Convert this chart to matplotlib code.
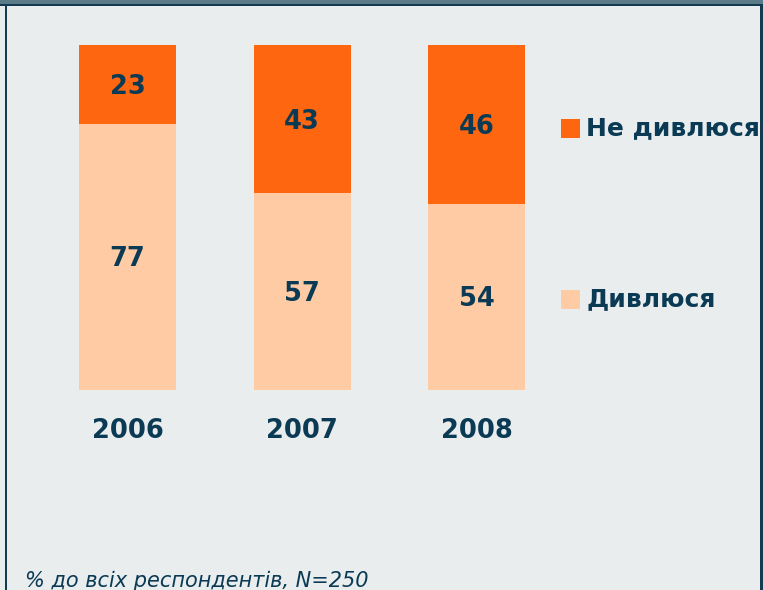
"""
Stacked percentage bars: do respondents watch or not, by year
"""

import matplotlib
matplotlib.use('Agg')
import matplotlib.pyplot as plt
from matplotlib.patches import Rectangle
import numpy as np

years = ['2006', '2007', '2008']
watch = [77, 57, 54]          # Дивлюся
not_watch = [23, 43, 46]      # Не дивлюся
series_labels = ['Не дивлюся', 'Дивлюся']
footnote = '% до всіх респондентів, N=250'

W, H = 763, 590
BG = '#e9edee'
NAVY = '#0b3a54'
DARK_ORANGE = '#ff6610'
PEACH = '#ffcba5'


def fx(px):
    return px / W


def fy(py):
    return 1 - py / H


fig = plt.figure(figsize=(W / 100, H / 100), dpi=100, facecolor=BG)

# frame lines along the top and the sides
fig.patches.append(Rectangle((0, fy(4)), 1, 4 / H, transform=fig.transFigure,
                             facecolor='#5b7b88', edgecolor='none'))
fig.patches.append(Rectangle((0, fy(6)), 1, 2 / H, transform=fig.transFigure,
                             facecolor='#143a50', edgecolor='none'))
fig.patches.append(Rectangle((fx(5), 0), 2.5 / W, fy(4), transform=fig.transFigure,
                             facecolor='#143a50', edgecolor='none'))
fig.patches.append(Rectangle((fx(759.5), 0), 3 / W, fy(4), transform=fig.transFigure,
                             facecolor='#143a50', edgecolor='none'))

# axes spans the whole width; 0..100 % maps to pixel rows 390..45
ax = fig.add_axes([0, fy(390), 1, 345 / H])
ax.set_facecolor('none')
spacing = 174.5
first = 127.5
ax.set_xlim(-first / spacing, (W - first) / spacing)
ax.set_ylim(0, 100)
ax.axis('off')

x = np.arange(len(years))
width = 97 / spacing
ax.bar(x, watch, width, color=PEACH, linewidth=0)
ax.bar(x, not_watch, width, bottom=watch, color=DARK_ORANGE, linewidth=0)

font = dict(fontsize=18.5, fontweight='bold', color=NAVY, family='DejaVu Sans')
for i in range(len(years)):
    # value labels sit a touch below the segment middle
    ax.annotate(str(watch[i]), (x[i], watch[i] / 2), xytext=(0, -2),
                textcoords='offset pixels', ha='center', va='center', **font)
    ax.annotate(str(not_watch[i]), (x[i], watch[i] + not_watch[i] / 2),
                xytext=(0, -2.5), textcoords='offset pixels',
                ha='center', va='center', **font)
    ax.text(x[i], -11.8, years[i], ha='center', va='center', clip_on=False, **font)

# legend entries
for label, color, cy in [(series_labels[0], DARK_ORANGE, 128.5),
                         (series_labels[1], PEACH, 299)]:
    fig.patches.append(Rectangle((fx(561), fy(cy + 9.5)), 19 / W, 19 / H,
                                 transform=fig.transFigure, facecolor=color,
                                 edgecolor='none'))
    fig.text(fx(586), fy(cy), label, ha='left', va='center',
             **{**font, 'fontsize': 18})

fig.text(fx(25), fy(587), footnote, ha='left', va='baseline', fontsize=15,
         style='italic', color=NAVY, family='DejaVu Sans')

plt.savefig('out.png', dpi=100, facecolor=BG)
